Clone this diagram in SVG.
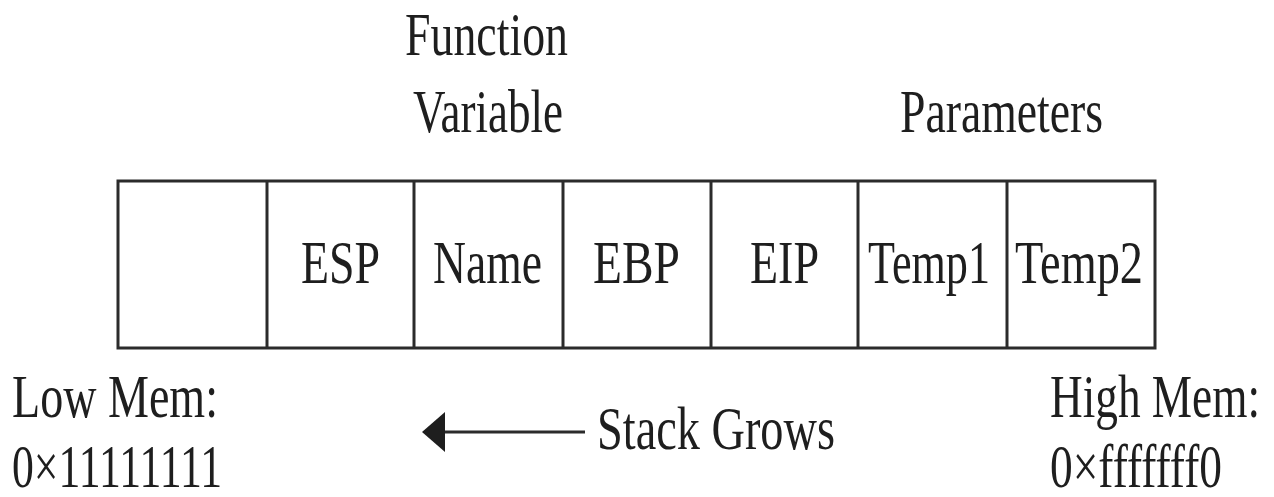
<svg xmlns="http://www.w3.org/2000/svg" width="1274" height="497" viewBox="0 0 1274 497">
<style>
text{font-family:"Liberation Serif","Times New Roman",serif;font-size:62px;fill:#1e1e1e}
.box{fill:#fff;stroke:#2b2b2b;stroke-width:3}
.ln{stroke:#2b2b2b;stroke-width:3;fill:none}
</style>
<rect width="1274" height="497" fill="#fff"/>
<g id="labels-top">
<text x="405" y="55" textLength="163" lengthAdjust="spacingAndGlyphs">Function</text>
<text x="413" y="132" textLength="150" lengthAdjust="spacingAndGlyphs">Variable</text>
<text x="900" y="132" textLength="203" lengthAdjust="spacingAndGlyphs">Parameters</text>
</g>
<g id="stack">
<rect class="box" x="118" y="181" width="1037" height="167"/>
<line class="ln" x1="267" y1="181" x2="267" y2="348"/>
<line class="ln" x1="414" y1="181" x2="414" y2="348"/>
<line class="ln" x1="563" y1="181" x2="563" y2="348"/>
<line class="ln" x1="711" y1="181" x2="711" y2="348"/>
<line class="ln" x1="858" y1="181" x2="858" y2="348"/>
<line class="ln" x1="1007" y1="181" x2="1007" y2="348"/>
</g>
<g id="cell-ESP"><text x="301" y="283" textLength="79" lengthAdjust="spacingAndGlyphs">ESP</text></g>
<g id="cell-Name"><text x="433" y="283" textLength="109" lengthAdjust="spacingAndGlyphs">Name</text></g>
<g id="cell-EBP"><text x="593" y="283" textLength="87" lengthAdjust="spacingAndGlyphs">EBP</text></g>
<g id="cell-EIP"><text x="750" y="283" textLength="69" lengthAdjust="spacingAndGlyphs">EIP</text></g>
<g id="cell-Temp1"><text x="868" y="283" textLength="122" lengthAdjust="spacingAndGlyphs">Temp1</text></g>
<g id="cell-Temp2"><text x="1015" y="283" textLength="128" lengthAdjust="spacingAndGlyphs">Temp2</text></g>
<g id="low-mem">
<text x="12" y="417" textLength="206" lengthAdjust="spacingAndGlyphs">Low Mem:</text>
<text x="12" y="487" textLength="210" lengthAdjust="spacingAndGlyphs">0×11111111</text>
</g>
<g id="high-mem">
<text x="1050" y="417" textLength="210" lengthAdjust="spacingAndGlyphs">High Mem:</text>
<text x="1050" y="487" textLength="172" lengthAdjust="spacingAndGlyphs">0×fffffff0</text>
</g>
<g id="connectors">
<line class="ln" x1="585" y1="432" x2="440" y2="432"/>
<polygon points="422,432 445,412 445,452" fill="#1e1e1e"/>
</g>
<g id="stack-grows">
<text x="597" y="449" textLength="238" lengthAdjust="spacingAndGlyphs">Stack Grows</text>
</g>
</svg>
